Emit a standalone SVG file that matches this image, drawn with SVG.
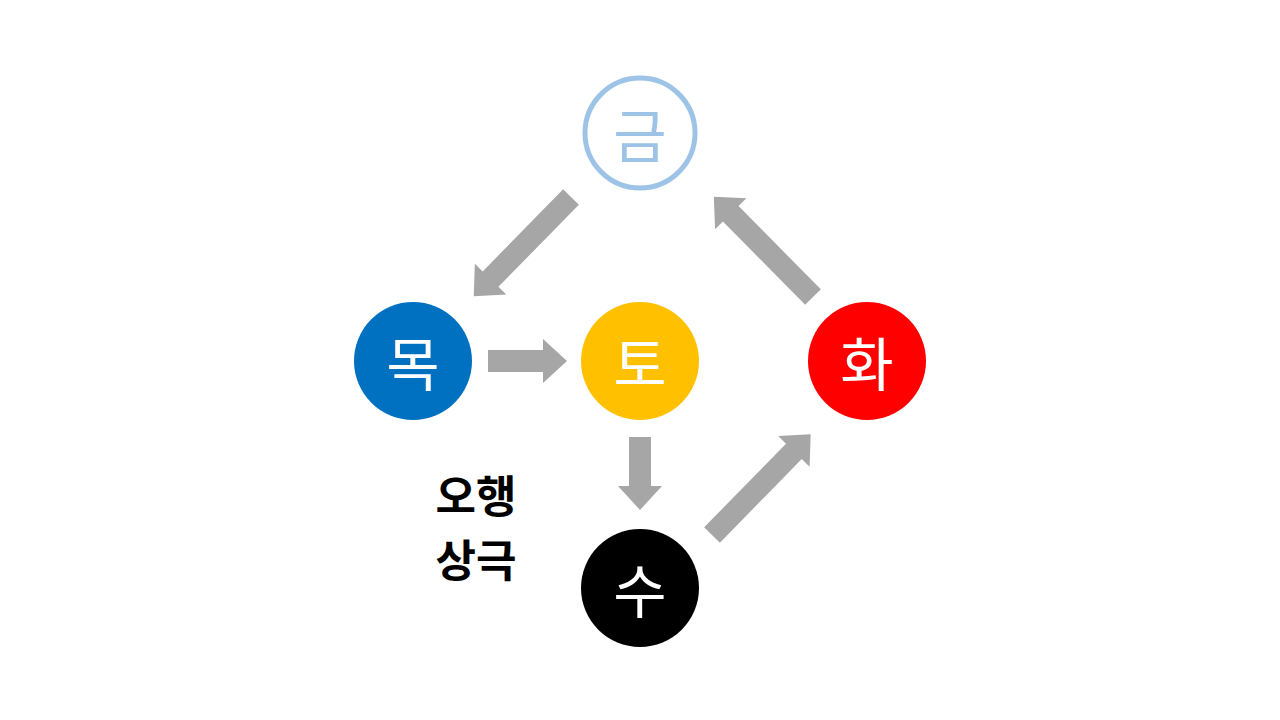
<svg xmlns="http://www.w3.org/2000/svg" width="1280" height="720" viewBox="0 0 1280 720">
<style>
.c{font-family:"Noto Sans CJK KR","Noto Sans",sans-serif;font-size:58px;fill:#fff;text-anchor:middle;dominant-baseline:central}
.a{fill:#a6a6a6}
.l{font-family:"Noto Sans CJK KR","Noto Sans",sans-serif;font-size:44px;font-weight:bold;fill:#000;text-anchor:middle}
</style>
<rect width="1280" height="720" fill="#fff"/>
<g id="connectors">
<polygon class="a" transform="translate(488,361)" points="0,-11 55,-11 55,-22 79,0 55,22 55,11 0,11"/>
<polygon class="a" transform="translate(640,437) rotate(90)" points="0,-11 49,-11 49,-22 73,0 49,22 49,11 0,11"/>
<polygon class="a" transform="translate(571,197) rotate(134.4)" points="0,-11 115,-11 115,-22 139,0 115,22 115,11 0,11"/>
<polygon class="a" transform="translate(813,297) rotate(-134.7)" points="0,-11 117,-11 117,-22 141,0 117,22 117,11 0,11"/>
<polygon class="a" transform="translate(712,535) rotate(-45.6)" points="0,-11 117,-11 117,-22 141,0 117,22 117,11 0,11"/>
</g>
<g id="geum"><circle cx="640" cy="133" r="55" fill="#fff" stroke="#9dc3e6" stroke-width="5"/><text class="c" x="640" y="133" style="fill:#9dc3e6">금</text></g>
<g id="mok"><circle cx="413" cy="361" r="59" fill="#0070c0"/><text class="c" x="413" y="361">목</text></g>
<g id="to"><circle cx="640" cy="361" r="59" fill="#ffc000"/><text class="c" x="640" y="361">토</text></g>
<g id="hwa"><circle cx="867" cy="361" r="59" fill="#ff0000"/><text class="c" x="867" y="361">화</text></g>
<g id="su"><circle cx="640" cy="588" r="59" fill="#000"/><text class="c" x="640" y="588">수</text></g>
<g id="label"><text class="l" x="476" y="513">오행</text><text class="l" x="476" y="577">상극</text></g>
</svg>
